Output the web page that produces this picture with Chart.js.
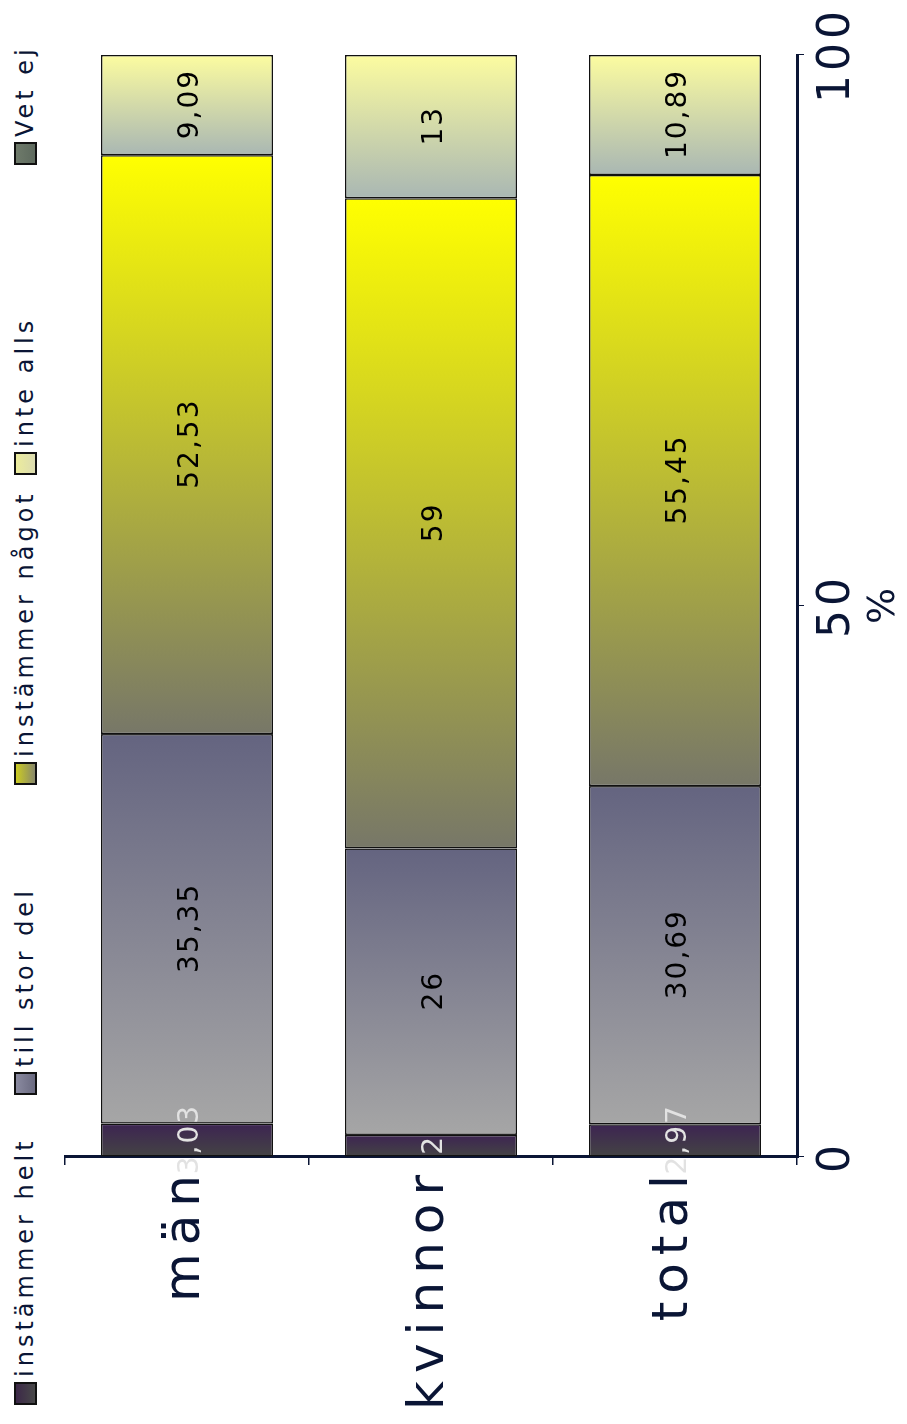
<!DOCTYPE html>
<html>
<head>
<meta charset="utf-8">
<script src="https://cdn.jsdelivr.net/npm/chart.js"></script>
<style>
html, body { margin: 0; padding: 0; background: #fff; overflow: hidden; }
#page {
    position: absolute; left: 0; top: 0;
    width: 1424px; height: 907px;
    transform-origin: 0 0;
    transform: translateY(1424px) rotate(-90deg);
}
#legend {
    position: absolute; left: 0; top: 11px;
    display: flex; padding-left: 19px;
    font-family: 'DejaVu Sans'; font-size: 24px; letter-spacing: 4px; color: #0a1535;
}
.item { width: 310px; display: flex; align-items: center; white-space: nowrap; }
.box { width: 23px; height: 23px; border: 2px solid #111; margin-right: 5px; box-sizing: border-box; flex: none; }
canvas { position: absolute; left: 0; top: 0; }
</style>
</head>
<body>
<div id="page">
    <div id="legend"></div>
    <canvas id="chart" width="1424" height="907"></canvas>
</div>
<script>
// shortcut
const c = (e) => document.querySelector(e);

// data
const categories = ['män', 'kvinnor', 'total'];
const seriesNames = ['instämmer helt', 'till stor del', 'instämmer något', 'inte alls', 'Vet ej'];
const instammerHelt = [3.03, 2, 2.97];
const tillStorDel = [35.35, 26, 30.69];
const instammerNagot = [52.53, 59, 55.45];
const inteAlls = [9.09, 13, 10.89];
const vetEj = [0, 0, 0];
const valueTicks = [0, 50, 100];
const axisTitle = '%';

// styles
const navy = '#0a1535';
const barGradients = [
    ['#444444', '#3d2452'],
    ['#a6a6a6', '#646480'],
    ['#777768', '#ffff00'],
    ['#a9b7b3', '#fcfca0'],
    ['#5e6a5e', '#6e7a6a']
];
const legendBoxes = [
    ['#3c2848', '#484848'],
    ['#8a8aa0', '#6a6a80'],
    ['#cccc22', '#88886a'],
    ['#ecec9c', '#dcdcb0'],
    ['#6e7a6a', '#5e6a5e']
];
const labelColors = ['#e2e2e2', '#000', '#000', '#000', '#000'];

const allSeries = [instammerHelt, tillStorDel, instammerNagot, inteAlls, vetEj];

// gradient running along each stacked segment
function segmentGradient(k) {
    return (ctx) => {
        const chart = ctx.chart;
        const x = chart.scales.x;
        if (!x || ctx.type !== 'data') return barGradients[k][1];
        const i = ctx.dataIndex;
        let start = 0;
        for (let d = 0; d < k; d++) start += allSeries[d][i];
        const end = start + allSeries[k][i];
        const x0 = x.getPixelForValue(start);
        const x1 = x.getPixelForValue(end);
        if (!isFinite(x0) || !isFinite(x1) || x0 === x1) return barGradients[k][1];
        const g = chart.ctx.createLinearGradient(x0, 0, x1, 0);
        g.addColorStop(0, barGradients[k][0]);
        g.addColorStop(1, barGradients[k][1]);
        return g;
    };
}

// letter spacing for tick labels
function spaced(scale, sp) {
    if (!scale || scale._spaced) return;
    const orig = scale.drawLabels;
    scale.drawLabels = function(area) {
        const ctx = this.ctx;
        ctx.save();
        ctx.letterSpacing = sp;
        orig.call(this, area);
        ctx.restore();
    };
    scale._spaced = true;
}
const spacingPlugin = {
    id: 'spacing',
    afterLayout(chart) {
        spaced(chart.scales.x, '4px');
        spaced(chart.scales.y, '8px');
    }
};

// value labels inside the segments
const valueLabels = {
    id: 'valueLabels',
    afterDatasetsDraw(chart) {
        const ctx = chart.ctx;
        ctx.save();
        ctx.font = '28px "DejaVu Sans"';
        ctx.letterSpacing = '2px';
        ctx.textAlign = 'center';
        ctx.textBaseline = 'middle';
        chart.data.datasets.forEach((ds, k) => {
            const meta = chart.getDatasetMeta(k);
            meta.data.forEach((bar, i) => {
                const v = ds.data[i];
                if (!v) return;
                ctx.fillStyle = labelColors[k];
                const txt = String(v).replace('.', ',');
                ctx.fillText(txt, (bar.x + bar.base) / 2 + 1, bar.y + 4);
            });
        });
        ctx.restore();
    }
};

new Chart(c('#chart'), {
    type: 'bar',
    data: {
        labels: categories,
        datasets: seriesNames.map((name, k) => ({
            label: name,
            data: allSeries[k],
            backgroundColor: segmentGradient(k),
            borderColor: '#111111',
            borderWidth: 1.5,
            borderSkipped: false,
            categoryPercentage: 1,
            barPercentage: 0.705
        }))
    },
    options: {
        indexAxis: 'y',
        responsive: false,
        animation: false,
        layout: { padding: { left: 0, top: 65, right: 55, bottom: 0 } },
        plugins: {
            legend: { display: false },
            tooltip: { enabled: false }
        },
        scales: {
            x: {
                stacked: true,
                min: 0,
                max: 100,
                afterBuildTicks: (s) => { s.ticks = valueTicks.map(v => ({ value: v })); },
                afterFit: (s) => { s.height = 110; },
                border: { color: navy, width: 3 },
                grid: { drawOnChartArea: false, color: navy, tickLength: 7, lineWidth: 1 },
                ticks: {
                    color: navy,
                    padding: 12,
                    maxRotation: 0,
                    font: { family: 'DejaVu Sans', size: 44, lineHeight: 1 }
                },
                title: {
                    display: true,
                    text: axisTitle,
                    color: navy,
                    padding: 0,
                    font: { family: 'DejaVu Sans', size: 38 }
                }
            },
            y: {
                stacked: true,
                afterFit: (s) => { s.width = 267; },
                border: { color: navy, width: 3 },
                grid: { drawOnChartArea: false, color: navy, tickLength: 8, lineWidth: 1.5 },
                ticks: {
                    color: navy,
                    padding: 2,
                    labelOffset: -1,
                    font: { family: 'DejaVu Sans', size: 50, lineHeight: 1 }
                }
            }
        }
    },
    plugins: [spacingPlugin, valueLabels]
});

// legend
seriesNames.forEach((name, k) => {
    c('#legend').innerHTML += `
    <div class="item">
        <span class="box" style="background: linear-gradient(${legendBoxes[k][0]}, ${legendBoxes[k][1]});"></span>
        <span>${name}</span>
    </div>
    `;
});
</script>
</body>
</html>
